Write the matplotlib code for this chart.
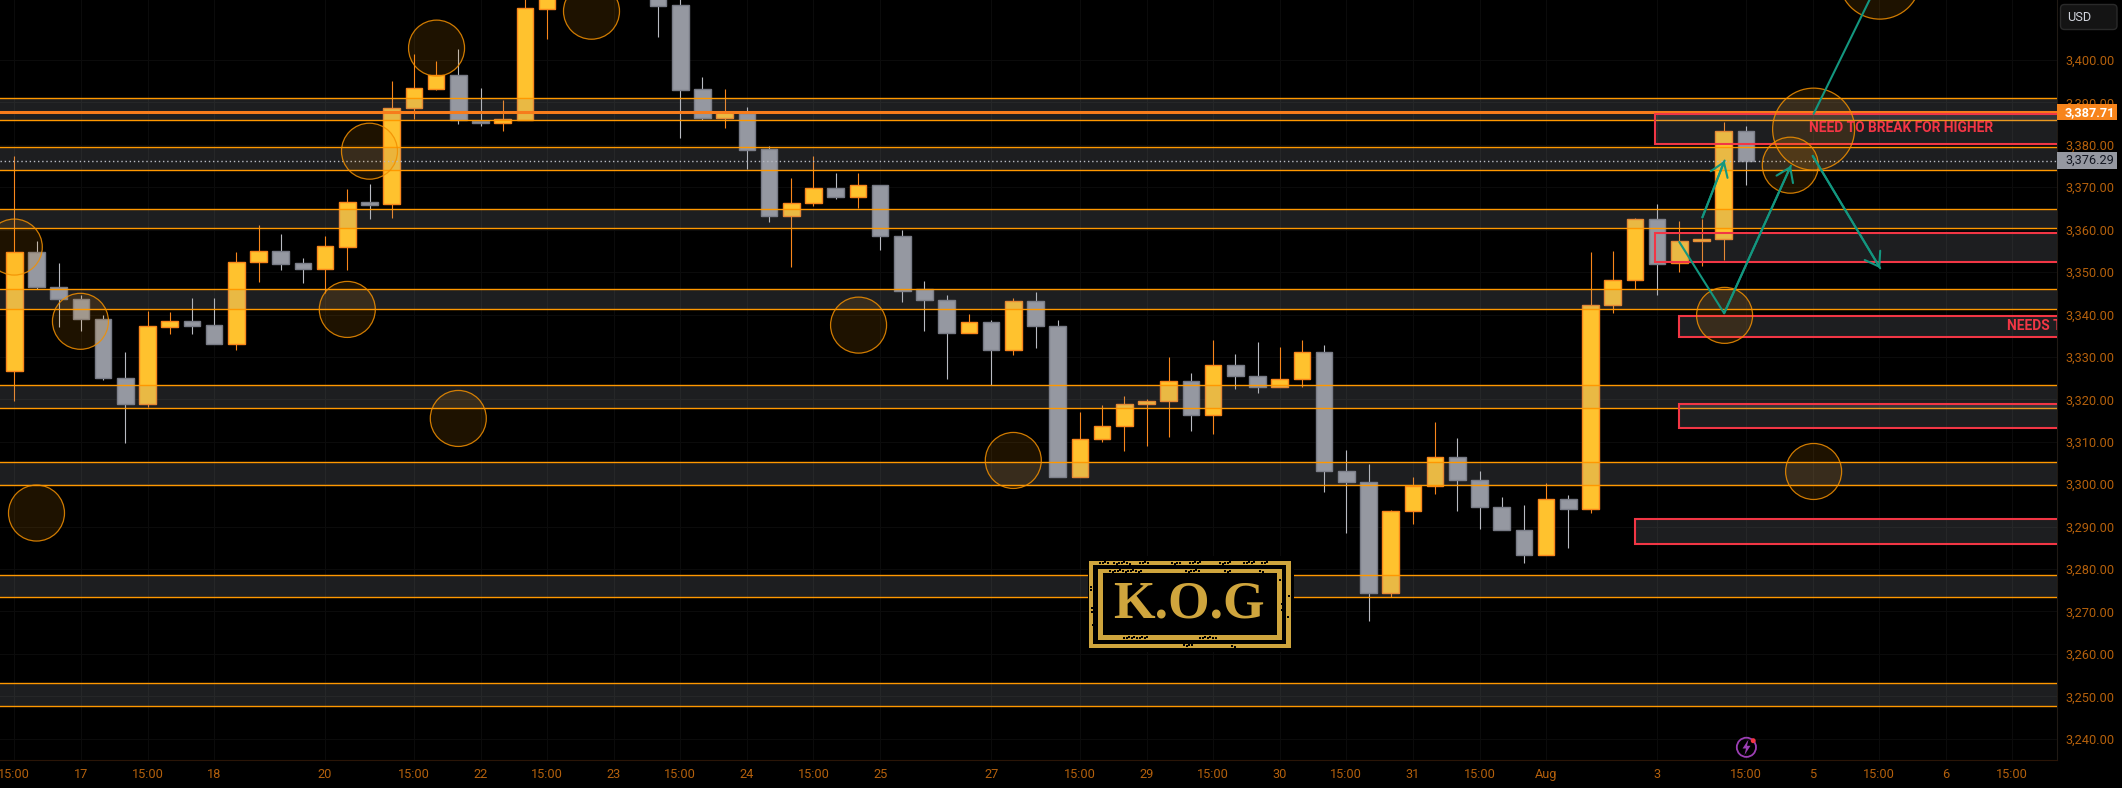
import numpy as np
import matplotlib
matplotlib.use("Agg")
import matplotlib.pyplot as plt
from matplotlib.patches import Ellipse, Rectangle, FancyBboxPatch, Circle, Polygon

nan = float("nan")

# Hourly-style XAUUSD candles, one row per bar (bars 25-28 trade above the visible range)
opens = [3326.6, 3354.7, 3346.6, 3343.7, 3339.0, 3325.1, 3318.8, 3337.1, 3338.4, 3337.5,
         3333.1, 3352.3, 3354.9, 3352.1, 3350.8, 3356.0, 3366.5, 3366.0, 3388.6, 3393.2,
         3396.4, 3385.7, 3385.2, 3385.9, 3412.1, nan, nan, nan, nan, 3425.0,
         3412.9, 3393.2, 3386.4, 3387.6, 3379.0, 3363.3, 3366.2, 3369.8, 3367.8, 3370.5,
         3358.4, 3345.9, 3343.5, 3335.7, 3338.2, 3331.7, 3343.1, 3337.4, 3301.8, 3310.6,
         3313.7, 3318.8, 3319.6, 3324.3, 3316.4, 3328.0, 3325.6, 3323.0, 3324.7, 3331.1,
         3303.0, 3300.6, 3274.4, 3293.6, 3299.6, 3306.4, 3301.1, 3294.7, 3289.3, 3283.4,
         3296.5, 3294.2, 3342.2, 3348.1, 3362.5, 3352.1, 3357.3, 3357.7, 3383.2]
highs = [3377.4, 3357.3, 3352.1, 3344.6, 3339.9, 3331.1, 3340.8, 3340.6, 3343.8, 3343.8,
         3354.7, 3361.1, 3359.0, 3353.3, 3358.5, 3369.6, 3370.8, 3395.0, 3401.4, 3399.8,
         3402.5, 3393.4, 3390.6, 3417.0, 3424.0, nan, nan, nan, nan, 3428.0,
         3417.0, 3396.0, 3393.2, 3388.9, 3379.7, 3372.2, 3377.4, 3373.4, 3373.4, 3370.5,
         3359.9, 3347.9, 3344.6, 3340.1, 3338.6, 3343.9, 3345.3, 3338.7, 3317.0, 3318.7,
         3320.8, 3320.1, 3330.0, 3326.2, 3334.0, 3330.7, 3333.5, 3332.4, 3334.0, 3332.8,
         3308.1, 3304.8, 3293.9, 3301.7, 3314.7, 3310.9, 3303.1, 3297.0, 3295.1, 3300.3,
         3297.5, 3354.7, 3355.0, 3362.8, 3366.1, 3362.1, 3362.6, 3385.4, 3384.4]
lows = [3319.7, 3346.0, 3337.1, 3336.0, 3324.6, 3309.7, 3318.3, 3335.5, 3335.3, 3333.1,
        3331.7, 3347.7, 3350.6, 3347.5, 3345.1, 3350.6, 3362.6, 3362.8, 3386.2, 3392.9,
        3385.0, 3384.5, 3383.3, 3385.9, 3405.0, nan, nan, nan, nan, 3405.5,
        3381.5, 3385.9, 3384.0, 3374.4, 3361.9, 3351.3, 3365.7, 3367.3, 3365.2, 3355.3,
        3343.0, 3336.2, 3324.9, 3335.7, 3323.4, 3330.5, 3332.2, 3301.8, 3301.8, 3310.0,
        3307.9, 3308.9, 3311.2, 3312.6, 3311.9, 3322.5, 3321.6, 3323.0, 3323.0, 3298.2,
        3288.6, 3267.8, 3273.4, 3290.5, 3297.8, 3293.8, 3289.5, 3289.3, 3281.5, 3283.2,
        3285.0, 3293.1, 3340.4, 3346.1, 3344.7, 3350.1, 3351.5, 3352.9, 3370.5]
closes = [3354.7, 3346.6, 3343.7, 3339.0, 3325.1, 3318.8, 3337.3, 3338.4, 3337.4, 3333.1,
          3352.3, 3354.9, 3352.0, 3350.8, 3356.1, 3366.5, 3365.9, 3388.6, 3393.3, 3396.4,
          3385.9, 3385.2, 3386.1, 3412.2, 3420.0, nan, nan, nan, nan, 3412.8,
          3393.0, 3386.4, 3387.7, 3378.9, 3363.3, 3366.2, 3369.8, 3367.8, 3370.5, 3358.4,
          3345.6, 3343.5, 3335.7, 3338.2, 3331.7, 3343.1, 3337.4, 3301.8, 3310.6, 3313.7,
          3318.8, 3319.6, 3324.3, 3316.4, 3328.0, 3325.6, 3323.0, 3324.7, 3331.1, 3303.0,
          3300.6, 3274.4, 3293.6, 3299.6, 3306.4, 3301.1, 3294.7, 3289.3, 3283.4, 3296.5,
          3294.2, 3342.3, 3348.1, 3362.5, 3352.0, 3357.3, 3357.7, 3383.2, 3376.29]

# Support / resistance bands (upper edge, lower edge)
band_tops = [3391.0, 3379.5, 3364.8, 3346.0, 3323.3, 3305.2, 3278.5, 3253.1]
band_bottoms = [3385.8, 3374.0, 3360.3, 3341.2, 3317.9, 3299.8, 3273.4, 3247.7]

# Red marked zones running off the right edge
zone_starts = [73.9, 73.9, 75.0, 75.0, 73.0]
zone_tops = [3387.3, 3359.3, 3339.7, 3318.8, 3291.9]
zone_bottoms = [3380.2, 3352.3, 3334.6, 3313.2, 3285.9]

# Highlight circles: bar, price, radius in pixels
circle_bars = [0, 2.98, 15, 16, 19.02, 26, 20, 1, 38.03, 45, 81.05, 77.04, 80, 81.05, 84.03]
circle_prices = [3355.9, 3338.4, 3341.2, 3378.5, 3402.8, 3411.5, 3315.5, 3293.2, 3337.5,
                 3305.6, 3303.0, 3339.8, 3375.2, 3383.7, 3419.3]
circle_radii = [28, 28, 28, 28, 28, 28, 28, 28, 28, 28, 28, 28, 28, 41, 41]

# Projected paths: (bar, price) waypoints, the last segment carries the arrow head
path_short = [(76.04, 3362.9), (77.04, 3376.3)]
path_zigzag = [(75.0, 3357.1), (77.02, 3340.3), (80.03, 3375.1)]
path_up = [(81.05, 3387.3), (84.03, 3419.1)]
path_down = [(81.01, 3377.4), (84.05, 3350.9)]

price_ticks = list(range(3240, 3401, 10))
time_bars = [0, 3, 6, 9, 14, 18, 21, 24, 27, 30, 33, 36, 39, 44, 48, 51, 54, 57, 60, 63,
             66, 69, 74, 78, 81, 84, 87, 90]
time_labels = ["15:00", "17", "15:00", "18", "20", "15:00", "22", "15:00", "23", "15:00",
               "24", "15:00", "25", "27", "15:00", "29", "15:00", "30", "15:00", "31",
               "15:00", "Aug", "3", "15:00", "5", "15:00", "6", "15:00"]

last_line_price = 3387.71
last_close_price = 3376.29

W, H = 2122, 788
PANE_W, PANE_H = 2056.5, 760.0
BAR_PX = 22.2
PRICE_PX = 4.242
LABEL_FONT = "Roboto"
LABEL_SIZE = 9.2

UP_FILL, UP_EDGE = "#FFC22E", "#F9861B"
DOWN_FILL, DOWN_EDGE = "#9598A1", "#787B86"
ORANGE = "#FF9800"
RED = "#F23645"
TEAL = "#13967F"
TICK = "#B4600C"
GOLD = "#CFA53D"

fig = plt.figure(figsize=(W / 100, H / 100), dpi=100, facecolor="black")
ax = fig.add_axes([0, 1 - PANE_H / H, PANE_W / W, PANE_H / H], facecolor="black")
ax.set_xlim(-14.3 / BAR_PX, (PANE_W - 14.3) / BAR_PX)
ax.set_ylim(3400 - (PANE_H - 60) / PRICE_PX, 3400 + 60 / PRICE_PX)

# Candles
o, h, l, c = map(np.array, (opens, highs, lows, closes))
bars = np.arange(len(o))
up = c >= o
ax.vlines(bars[up], l[up], h[up], color=UP_EDGE, lw=0.8, zorder=2)
ax.vlines(bars[~up], l[~up], h[~up], color="#B9BBC2", lw=0.8, zorder=2)
ax.bar(bars[up], (c - o)[up], bottom=o[up], width=0.74,
       facecolor=UP_FILL, edgecolor=UP_EDGE, linewidth=1.0, zorder=3)
ax.bar(bars[~up], (c - o)[~up], bottom=o[~up], width=0.74,
       facecolor=DOWN_FILL, edgecolor=DOWN_EDGE, linewidth=1.0, zorder=3)

# Horizontal bands
for top, bottom in zip(band_tops, band_bottoms):
    ax.axhspan(bottom, top, facecolor="#9598A1", alpha=0.2, lw=0, zorder=4)
    ax.axhline(top, color=ORANGE, lw=1.0, zorder=5)
    ax.axhline(bottom, color=ORANGE, lw=1.0, zorder=5)

# Last-price lines
ax.axhline(last_line_price, color="#F77C1B", lw=2.2, zorder=5)
ax.axhline(last_close_price, color="#B8BBC4", lw=1.0, ls=(0, (1, 2)), zorder=5)

# Red zones extend past the pane so only three sides show
right_edge = ax.get_xlim()[1] + 2
for start, top, bottom in zip(zone_starts, zone_tops, zone_bottoms):
    ax.add_patch(Rectangle((start, bottom), right_edge - start, top - bottom,
                           facecolor=(0.584, 0.596, 0.631, 0.2), edgecolor=RED,
                           linewidth=1.5, zorder=6))
ax.text(85.0, 3383.9, "NEED TO BREAK FOR HIGHER", color=RED, family=LABEL_FONT, fontsize=9.9,
        fontweight="bold", ha="center", va="center", zorder=9)
ax.text(89.75, 3337.3, "NEEDS TO BREAK", color=RED, family=LABEL_FONT, fontsize=9.9,
        fontweight="bold", ha="left", va="center", clip_on=True, zorder=9)

# Highlight circles
for bar, price, radius in zip(circle_bars, circle_prices, circle_radii):
    ax.add_patch(Ellipse((bar, price), 2 * radius / BAR_PX, 2 * radius / PRICE_PX,
                         facecolor=(1, 0.596, 0, 0.12), edgecolor=(0.95, 0.56, 0, 0.85),
                         linewidth=0.9, zorder=7))

# Projected paths
for path, arrow in ((path_short, True), (path_zigzag, True), (path_up, False), (path_down, True)):
    xs, ys = zip(*path)
    ax.plot(xs, ys, color=TEAL, lw=1.5, zorder=8, solid_capstyle="round")
    if arrow:
        ax.annotate("", xy=path[-1], xytext=path[-2], zorder=8, annotation_clip=False,
                    arrowprops=dict(arrowstyle="->,head_length=9.5,head_width=6.5", mutation_scale=1,
                                    color=TEAL, lw=1.5, shrinkA=0, shrinkB=0))

# Axis furniture
ax.yaxis.tick_right()
ax.set_yticks(price_ticks, [f"{v:,.2f}" for v in price_ticks])
ax.set_xticks(time_bars, time_labels)
ax.tick_params(axis="y", length=0, pad=6.1, labelcolor=TICK, labelsize=LABEL_SIZE)
ax.tick_params(axis="x", length=0, pad=6.0, labelcolor=TICK, labelsize=LABEL_SIZE)
for label in ax.get_xticklabels() + ax.get_yticklabels():
    label.set_family(LABEL_FONT)
ax.grid(True, color="#0B0B0B", lw=0.8, zorder=0)
ax.set_axisbelow(True)
for side, spine in ax.spines.items():
    spine.set_visible(side in ("right", "bottom"))
ax.spines["right"].set_color("#201A14")
ax.spines["bottom"].set_color("#2A1507")

# Price flags on the right scale
scale = ax.get_yaxis_transform()
flag_w = 60.5 / PANE_W
for price, fill, ink, weight in ((last_line_price, "#F7841B", "white", "bold"),
                                 (last_close_price, DOWN_FILL, "#131722", "normal")):
    ax.add_patch(Rectangle((1.0, price - 1.97), flag_w, 3.94, transform=scale, clip_on=False,
                           facecolor=fill, edgecolor="none", zorder=10))
    ax.text(1 + 8.5 / PANE_W, price, f"{price:,.2f}", transform=scale, color=ink, family=LABEL_FONT,
            fontsize=LABEL_SIZE, fontweight=weight, ha="left", va="center", clip_on=False, zorder=11)

# Pixel-addressed overlay for the logo, currency button and alert icon
ov = fig.add_axes([0, 0, 1, 1], facecolor="none")
ov.set_xlim(0, W)
ov.set_ylim(H, 0)
ov.axis("off")

ov.add_patch(FancyBboxPatch((2060.5, 4.5), 56.5, 25, boxstyle="round,pad=0,rounding_size=4",
                            facecolor="#141414", edgecolor="#2A2A2A", linewidth=1))
ov.text(2079, 17.5, "USD", color="#D1D4DC", family=LABEL_FONT, fontsize=LABEL_SIZE, ha="center", va="center")

ov.add_patch(Circle((1746.4, 747.3), 9.6, facecolor="none", edgecolor="#9C3FB5", linewidth=1.3))
ov.add_patch(Polygon([(1748.5, 739.5), (1742.5, 748.5), (1746, 748.5), (1744.5, 755),
                      (1750.5, 745.8), (1747, 745.8)], facecolor="#9C3FB5", edgecolor="none"))
ov.add_patch(Circle((1753.2, 740.7), 2.5, facecolor=RED, edgecolor="none"))

# K.O.G stamp
ov.add_patch(Rectangle((1088, 556), 206, 96, facecolor="black", edgecolor="none"))
ov.add_patch(Rectangle((1089, 560.7), 201.7, 87.6, facecolor=GOLD, edgecolor="none"))
ov.add_patch(Rectangle((1093.4, 565), 192.9, 79, facecolor="black", edgecolor="none"))
ov.add_patch(Rectangle((1098, 569.3), 183.8, 70.4, facecolor=GOLD, edgecolor="none"))
ov.add_patch(Rectangle((1102.6, 573.3), 174.6, 62, facecolor="black", edgecolor="none"))
ov.text(1188.7, 604.2, "K.O.G", color=GOLD, family="Liberation Serif", fontweight="bold",
        fontsize=38.5, ha="center", va="center")

# Stencil bridges through the lettering: x, y, width, height
stencil_cuts = [(1188, 583, 1.4, 4), (1188, 621, 1.4, 4), (1246, 583, 1.4, 5), (1246, 619, 1.4, 6),
                (1133, 587, 1.2, 30)]
for x, y, w, ht in stencil_cuts:
    ov.add_patch(Rectangle((x, y), w, ht, facecolor="black", edgecolor="none"))

# Worn ink along the frame: each run is a speckled stretch x, y, length
wear_runs = [(1100, 562.5, 8), (1114, 563, 16), (1140, 562.5, 9), (1172, 563, 8), (1190, 562.5, 12),
             (1220, 563, 13), (1244, 562.5, 12), (1262, 562.5, 7), (1110, 571, 32), (1186, 571, 14),
             (1225, 571, 7), (1260, 571, 5), (1124, 637.5, 26), (1200, 637.5, 16),
             (1184, 645, 8), (1232, 646, 3)]
for x0, y0, length in wear_runs:
    xs = np.arange(x0, x0 + length, 2.6)
    ys = y0 + np.resize([0, 0.6, -0.5, 0.3, -0.6], xs.size)
    ov.scatter(xs, ys, s=0.9, c="black", marker="s", linewidths=0)
wear_side_x = [1090.5, 1091, 1092, 1280, 1281.5, 1288, 1288.5, 1282, 1092.5, 1091.5]
wear_side_y = [587, 590, 608, 580, 604, 617, 596, 610, 625, 612]
ov.scatter(wear_side_x, wear_side_y, s=2.5, c="black", marker="s", linewidths=0)

fig.savefig("out.png", dpi=100, facecolor="black")
